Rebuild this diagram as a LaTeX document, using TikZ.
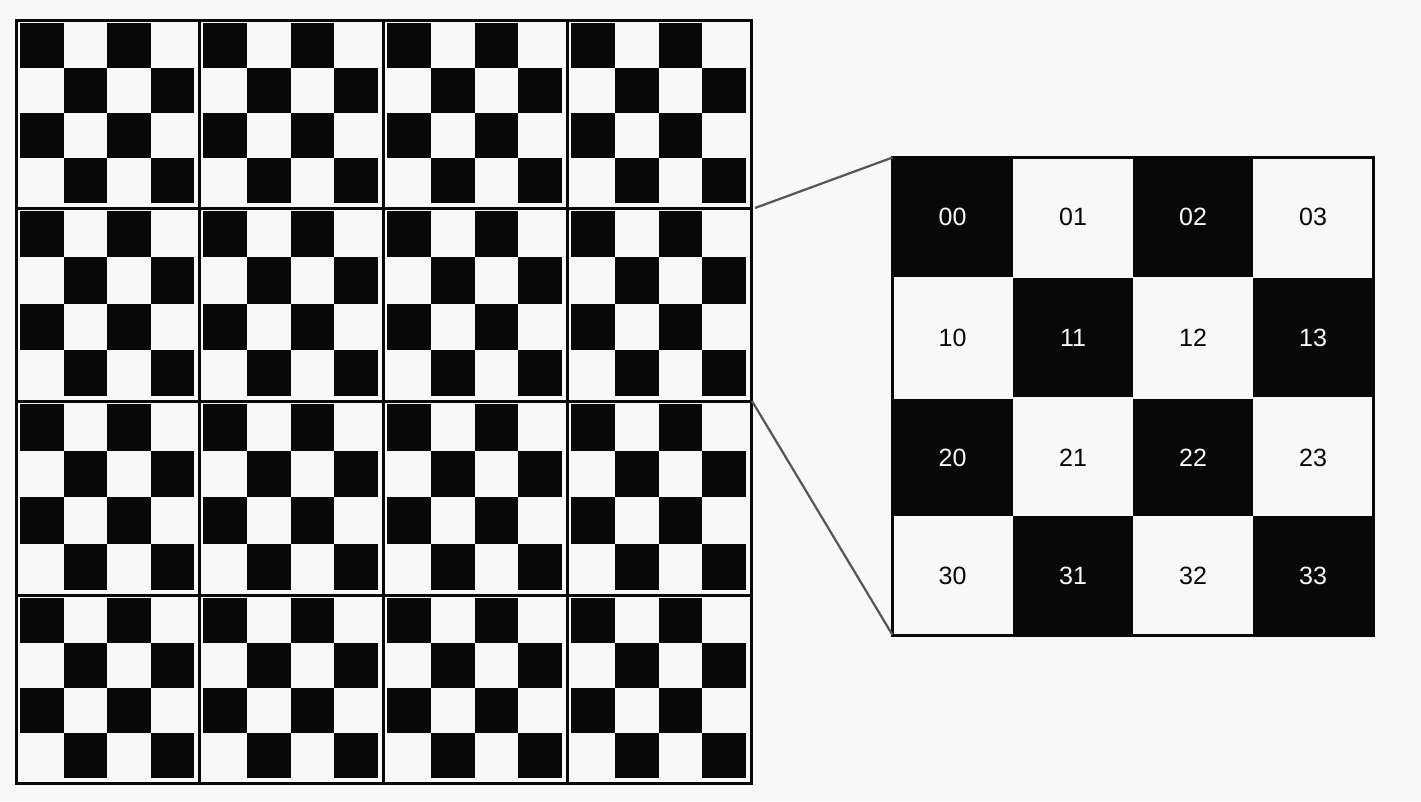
\documentclass[tikz,border=0pt]{standalone}
\usepackage{fontspec}
\setmainfont{Liberation Sans}
\definecolor{bg}{HTML}{F8F8F8}
\definecolor{sq}{HTML}{080808}
\definecolor{conn}{HTML}{555555}
\begin{document}
\begin{tikzpicture}[x=0.5bp,y=-0.5bp,
  blockline/.style={draw=sq,line width=1.5bp},
  darksq/.style={fill=sq},
  cell/.style={minimum width=60bp,minimum height=59.5bp,inner sep=0pt,outer sep=0pt,
    font=\fontsize{12.5bp}{14bp}\selectfont},
  darkcell/.style={cell,fill=sq,text=bg},
  lightcell/.style={cell,fill=bg,text=sq},
  connector/.style={draw=conn,line width=1.1bp}]
\fill[bg] (0,0) rectangle (1421,801);
\useasboundingbox (0,0) rectangle (1421,801);
% left big grid of 4x4 blocks
\foreach \xa/\xb in {16/199,199/383,383/567,567/751}{
  \foreach \ya/\yb in {20/208,208/401,401/595,595/783}{
    \pgfmathsetmacro\sw{(\xb-\xa-9)/4}
    \pgfmathsetmacro\sh{(\yb-\ya-8)/4}
    \foreach \r in {0,...,3}{
      \foreach \c in {0,...,3}{
        \pgfmathtruncatemacro\pty{mod(\r+\c,2)}
        \ifnum\pty=0
          \fill[darksq] ({\xa+4+\c*\sw},{\ya+3+\r*\sh}) rectangle ++(\sw,\sh);
        \fi
      }
    }
    \draw[blockline] (\xa,\ya) rectangle (\xb,\yb);
  }
}
% zoomed block
\node[darkcell]  (c00) at (952.5,217) {00};
\node[lightcell] (c01) at (1073,217) {01};
\node[darkcell]  (c02) at (1193,217) {02};
\node[lightcell] (c03) at (1313,217) {03};
\node[lightcell] (c10) at (952.5,337.5) {10};
\node[darkcell]  (c11) at (1073,337.5) {11};
\node[lightcell] (c12) at (1193,337.5) {12};
\node[darkcell]  (c13) at (1313,337.5) {13};
\node[darkcell]  (c20) at (952.5,458) {20};
\node[lightcell] (c21) at (1073,458) {21};
\node[darkcell]  (c22) at (1193,458) {22};
\node[lightcell] (c23) at (1313,458) {23};
\node[lightcell] (c30) at (952.5,575.5) {30};
\node[darkcell]  (c31) at (1073,575.5) {31};
\node[lightcell] (c32) at (1193,575.5) {32};
\node[darkcell]  (c33) at (1313,575.5) {33};
\draw[draw=sq,line width=1.5bp] (c00.north west) rectangle (c33.south east);
% connectors
\coordinate (z1) at (755,208);
\coordinate (z2) at (752,401);
\draw[connector] (z1) -- (c00.north west);
\draw[connector] (z2) -- (c30.south west);
\end{tikzpicture}
\end{document}
